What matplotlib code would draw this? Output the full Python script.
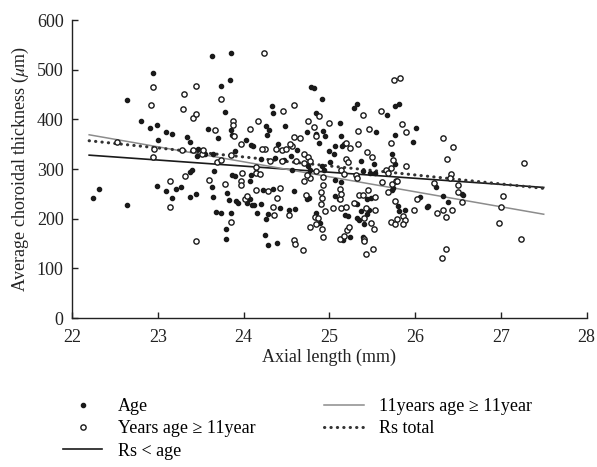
import matplotlib
matplotlib.use('Agg')
import matplotlib.pyplot as plt
from matplotlib.lines import Line2D

plt.rcParams['font.family'] = ['Liberation Serif', 'DejaVu Serif']
plt.rcParams['mathtext.fontset'] = 'stix'

# filled dots: "Age"
age_x = [22.24, 22.32, 22.64, 22.64, 22.81, 22.91, 22.94, 22.99, 23.00, 22.99,
         23.10, 23.10, 23.17, 23.17, 23.21, 23.27, 23.34, 23.37, 23.37, 23.37,
         23.40, 23.44, 23.47, 23.46, 23.58, 23.63, 23.70, 23.74, 23.78, 23.84,
         23.85, 23.79, 23.80, 23.74, 23.68, 23.64, 23.63, 23.66, 23.64, 23.85,
         23.86, 23.81, 23.83, 23.85, 23.91, 23.93, 23.86, 23.90, 23.90, 24.03,
         24.09, 24.11, 24.08, 24.04, 24.10, 24.12, 24.16, 24.15, 24.09, 24.08,
         24.20, 24.23, 24.27, 24.30, 24.33, 24.34, 24.26, 24.25, 24.29, 24.26,
         24.29, 24.39, 24.40, 24.37, 24.34, 24.42, 24.48, 24.55, 24.53, 24.60,
         24.59, 24.56, 24.79, 24.82, 24.91, 24.84, 24.84, 24.88, 24.93, 24.95,
         24.74, 25.13, 25.14, 25.15, 25.17, 25.07, 25.05, 25.00, 25.01, 24.92,
         24.94, 24.75, 24.75, 24.78, 24.74, 24.76, 24.84, 24.89, 25.07, 25.14,
         25.07, 25.11, 25.18, 25.22, 25.16, 25.24, 25.29, 25.32, 25.37, 25.39,
         25.30, 25.32, 25.37, 25.32, 25.35, 25.40, 25.39, 25.48, 25.52, 25.54,
         25.49, 25.46, 25.44, 25.44, 25.53, 25.67, 25.73, 25.77, 25.77, 25.81,
         25.77, 25.74, 25.73, 25.80, 25.81, 25.88, 26.01, 25.98, 26.06, 26.15,
         26.14, 26.24, 26.32, 26.38, 26.55, 26.56, 24.47, 24.20, 24.62, 23.55]
age_y = [241, 260, 439, 228, 396, 383, 494, 389, 358, 265,
         255, 374, 371, 242, 260, 264, 365, 354, 243, 295,
         298, 249, 341, 326, 381, 528, 363, 468, 414, 480,
         534, 159, 179, 212, 214, 243, 264, 296, 330, 379,
         369, 252, 237, 211, 236, 231, 289, 286, 336, 359,
         348, 346, 239, 232, 227, 228, 212, 294, 288, 276,
         229, 258, 369, 379, 427, 413, 386, 168, 147, 199,
         209, 152, 351, 322, 260, 221, 387, 326, 217, 219,
         256, 298, 465, 463, 441, 413, 370, 352, 377, 366,
         375, 393, 366, 347, 351, 347, 331, 336, 314, 307,
         298, 306, 291, 298, 240, 241, 212, 192, 277, 274,
         245, 239, 207, 205, 157, 164, 423, 431, 316, 296,
         231, 229, 215, 201, 197, 190, 163, 292, 310, 375,
         241, 217, 209, 240, 292, 408, 331, 311, 426, 431,
         369, 262, 258, 225, 215, 217, 382, 354, 243, 225,
         224, 264, 245, 234, 250, 248, 318, 320, 338, 330]

# open circles: "Years age >= 11year"
older_x = [22.53, 22.92, 22.95, 22.96, 22.95, 23.14, 23.14, 23.29, 23.31, 23.28,
           23.32, 23.41, 23.44, 23.44, 23.44, 23.41, 23.51, 23.53, 23.60, 23.67,
           23.69, 23.74, 23.74, 23.85, 23.78, 23.85, 23.88, 23.88, 23.89, 23.97,
           23.98, 23.97, 23.97, 24.02, 24.04, 24.08, 24.14, 24.15, 24.14, 24.17,
           24.19, 24.24, 24.25, 24.28, 24.31, 24.34, 24.36, 24.39, 24.42, 24.45,
           24.45, 24.46, 24.53, 24.59, 24.59, 24.60, 24.56, 24.59, 24.54, 24.61,
           25.76, 25.82, 25.60, 25.39, 25.46, 25.33, 25.34, 25.44, 25.50, 25.00,
           24.88, 24.82, 24.85, 24.75, 25.20, 25.24, 25.20, 25.22, 25.31, 25.32,
           25.14, 25.17, 24.70, 24.75, 24.77, 24.78, 24.74, 24.84, 24.93, 24.93,
           24.90, 24.92, 24.90, 24.73, 24.70, 24.78, 24.83, 24.87, 24.85, 24.91,
           24.93, 24.95, 25.04, 25.14, 25.13, 25.13, 25.14, 25.13, 25.17, 25.21,
           25.23, 25.19, 25.29, 25.35, 25.39, 25.45, 25.53, 25.53, 25.49, 25.52,
           25.40, 25.43, 25.41, 25.41, 25.43, 25.51, 25.62, 25.69, 25.72, 25.66,
           25.69, 25.74, 25.72, 25.73, 25.78, 25.79, 25.72, 25.77, 25.79, 25.86,
           25.88, 25.86, 25.77, 25.85, 25.89, 25.90, 25.99, 26.02, 26.22, 26.26,
           26.32, 26.36, 26.43, 26.33, 26.37, 26.44, 26.42, 26.41, 26.50, 26.50,
           26.55, 26.36, 26.31, 26.98, 27.02, 27.00, 27.24, 27.27, 24.69, 24.66,
           24.50, 24.38, 24.22, 24.70]
older_y = [355, 429, 466, 341, 324, 276, 223, 421, 452, 338,
           286, 403, 411, 468, 156, 338, 331, 339, 277, 378,
           315, 318, 441, 193, 269, 329, 396, 389, 367, 350,
           292, 275, 267, 240, 245, 380, 304, 292, 257, 396,
           290, 534, 341, 256, 316, 224, 207, 242, 262, 338,
           317, 416, 207, 429, 157, 150, 346, 365, 351, 316,
           480, 483, 417, 409, 381, 377, 351, 334, 325, 393,
           406, 384, 366, 396, 352, 342, 321, 314, 288, 282,
           298, 291, 330, 324, 316, 281, 289, 296, 284, 267,
           254, 241, 230, 247, 275, 184, 204, 201, 189, 179,
           164, 216, 221, 221, 240, 259, 250, 159, 165, 177,
           183, 223, 231, 247, 247, 257, 244, 217, 192, 180,
           202, 221, 160, 156, 128, 138, 274, 254, 302, 298,
           292, 319, 353, 270, 276, 275, 193, 189, 199, 205,
           197, 189, 235, 391, 375, 307, 217, 239, 272, 211,
           217, 203, 217, 362, 321, 344, 290, 282, 268, 254,
           234, 139, 120, 192, 246, 223, 159, 313, 136, 362,
           340, 341, 340, 312]

# regression lines (end points)
fit_x = [22.2, 27.5]
rs_age_y = [328, 263]
rs_old_y = [369, 209]
rs_total_y = [357, 261]

dark = '#1a1a1a'
dotted = (0, (0.1, 2.0))

fig = plt.figure(figsize=(5.97, 4.67), dpi=100)
ax = fig.add_axes([0.1206, 0.319, 0.862, 0.638])

ax.plot(age_x, age_y, 'o', ms=3.0, color=dark, mec=dark, zorder=3)
ax.plot(older_x, older_y, 'o', ms=3.8, mfc='white', mec=dark, mew=1.0, zorder=3)
ax.plot(fit_x, rs_age_y, '-', color=dark, lw=1.2, zorder=2)
ax.plot(fit_x, rs_old_y, '-', color='#8c8c8c', lw=1.1, zorder=2)
ax.plot(fit_x, rs_total_y, color='#333333', lw=2.2, ls=dotted,
        dash_capstyle='round', zorder=2)

ax.set_xlim(22, 28)
ax.set_ylim(0, 600)
ax.set_xticks(range(22, 29))
ax.set_yticks(range(0, 601, 100))
for s in ['top', 'right']:
    ax.spines[s].set_visible(False)
for s in ['left', 'bottom']:
    ax.spines[s].set_linewidth(1.0)
    ax.spines[s].set_color('#222222')
ax.tick_params(direction='in', length=4, width=1.0, labelsize=13, color='#222222',
               labelcolor='#222222')
ax.tick_params(axis='x', pad=8)
ax.tick_params(axis='y', pad=6)
ax.set_xlabel('Axial length (mm)', fontsize=13, color='#222222', labelpad=2)
ax.set_ylabel(r'Average choroidal thickness ($\mu$m)', fontsize=13, color='#222222',
              labelpad=4)

handles = [
    Line2D([], [], ls='none', marker='o', ms=3.0, color=dark),
    Line2D([], [], ls='none', marker='o', ms=3.8, mfc='white', mec=dark, mew=1.0),
    Line2D([], [], color=dark, lw=1.2),
    Line2D([], [], color='#8c8c8c', lw=1.1),
    Line2D([], [], color='#333333', lw=2.2, ls=dotted, dash_capstyle='round'),
]
labels = ['Age', 'Years age \u2265 11year', 'Rs < age',
          '11years age \u2265 11year', 'Rs total']
fig.legend(handles, labels, loc='upper left', bbox_to_anchor=(0.105, 0.148),
           ncol=2, frameon=False, fontsize=13, handlelength=2.2, handletextpad=0.85,
           columnspacing=3.8, labelspacing=0.3, borderaxespad=0, borderpad=0)

fig.savefig('out.png', dpi=100)
